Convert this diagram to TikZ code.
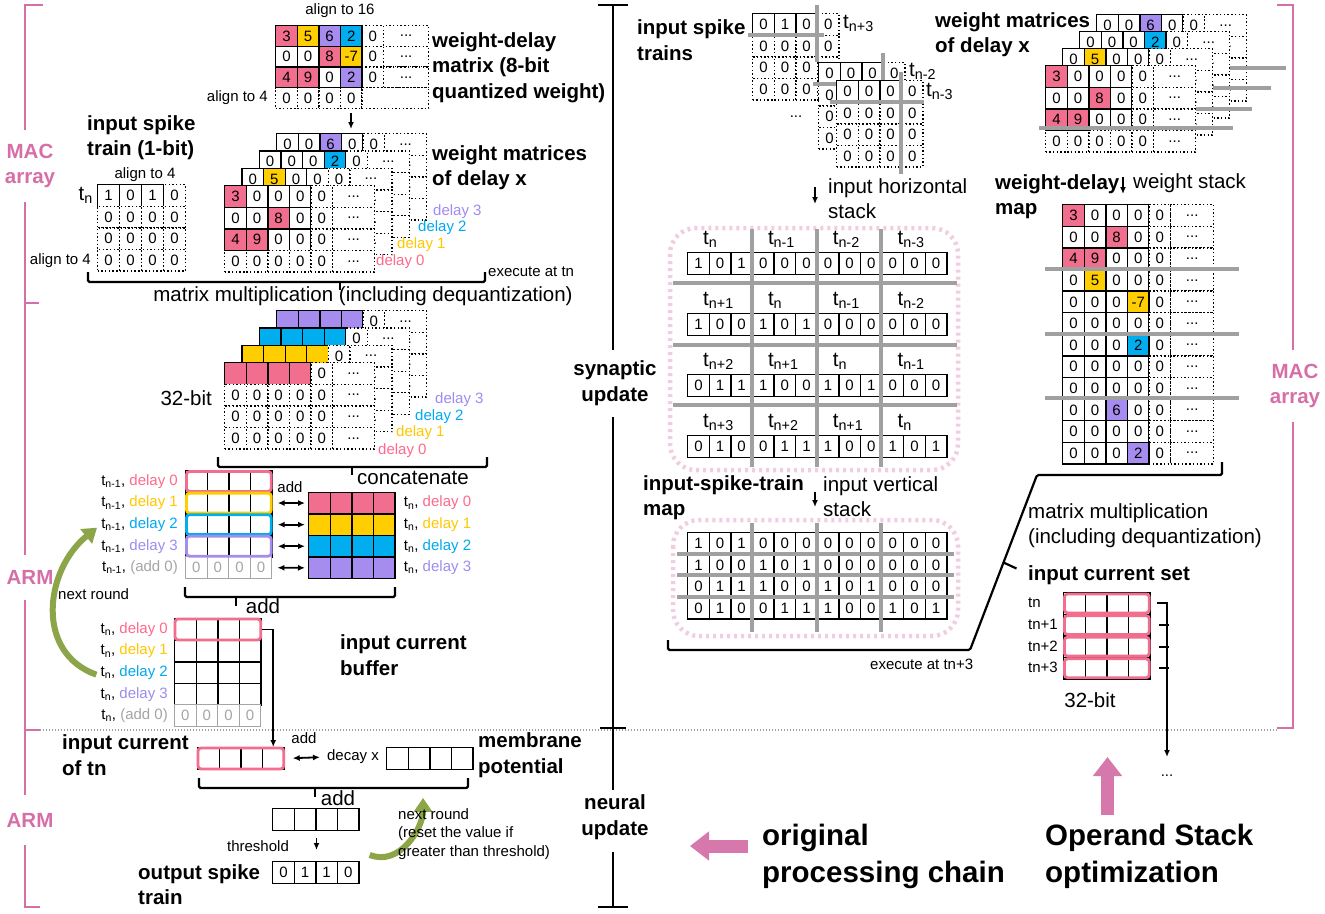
\documentclass[tikz,border=0pt]{standalone}
\usepackage{fontspec}
\setmainfont{Liberation Sans}
\usepackage{tikz}
\usetikzlibrary{arrows.meta}
\usetikzlibrary{calc}
\usetikzlibrary{positioning}

\definecolor{wpink}{RGB}{242,110,142}
\definecolor{wyel}{RGB}{255,206,0}
\definecolor{wblue}{RGB}{0,174,239}
\definecolor{wpurp}{RGB}{166,140,238}
\definecolor{tpink}{RGB}{255,105,140}
\definecolor{tyel}{RGB}{255,200,0}
\definecolor{tblue}{RGB}{0,170,240}
\definecolor{tpurp}{RGB}{160,140,240}
\definecolor{macpink}{RGB}{214,110,168}
\definecolor{oli}{RGB}{140,165,72}
\definecolor{gline}{RGB}{160,160,160}
\definecolor{gtext}{RGB}{165,165,165}
\definecolor{boxpink}{RGB}{242,205,225}
\definecolor{bigpink}{RGB}{215,120,172}

\newcommand{\smallfnt}{\fontsize{15}{18.5}\selectfont}
\newcommand{\medfnt}{\fontsize{20.5}{25}\selectfont}
\newcommand{\labfnt}{\fontsize{20.5}{25.5}\selectfont\bfseries}
\newcommand{\hugefnt}{\fontsize{29.5}{37}\selectfont\bfseries}
\newcommand{\tsb}[1]{t\textsubscript{#1}}

\tikzset{wcell/.style={draw, line width=1.3pt, fill=white, minimum width=21.6pt, minimum height=21.6pt, inner sep=0pt, anchor=north west, font=\smallfnt}}
\tikzset{dcell/.style={wcell, dash pattern=on 1.4pt off 2.3pt}}
\tikzset{gcell/.style={wcell, draw=gtext, text=gtext, line width=1pt}}
\tikzset{txt/.style={font=\smallfnt, inner sep=0pt}}
\tikzset{mtxt/.style={font=\medfnt, inner sep=0pt}}
\tikzset{blab/.style={font=\labfnt, align=left, anchor=west, inner sep=0pt}}
\tikzset{mlab/.style={font=\labfnt, text=macpink, align=center, inner sep=0pt}}
\tikzset{hlab/.style={font=\hugefnt, align=left, anchor=west, inner sep=0pt}}
\tikzset{brk/.style={line width=2.2pt, rounded corners=1.5pt}}
\tikzset{gsep/.style={line width=4pt, draw=gline}}
\tikzset{mac/.style={line width=2pt, draw=macpink}}
\tikzset{rowmark/.style={draw=#1, line width=2.8pt, rounded corners=3pt}}
\tikzset{pbox/.style={draw=boxpink, line width=4.5pt, dash pattern=on 3pt off 4pt, rounded corners=26pt}}

% one weight matrix of a delay (3 solid rows, padding); #5 = text of covered cells
\newcommand{\wlayer}[5]{%
  \foreach \cc in {0,...,3}
    \node[wcell] (#1-0-\cc) at ({#2+\cc*21.6},#3) {0};
  \node[dcell] (#1-0-4) at ({#2+86.4},#3) {0};
  \node[dcell, minimum width=42pt] (#1-0-5) at ({#2+108},#3) {...};
  \foreach \rr in {1,2}{
    \foreach \cc in {0,...,3}
      \node[wcell] (#1-\rr-\cc) at ({#2+\cc*21.6},{#3+\rr*21.6}) {#5};
    \node[dcell] (#1-\rr-4) at ({#2+86.4},{#3+\rr*21.6}) {#5};
    \node[dcell, minimum width=42pt] (#1-\rr-5) at ({#2+108},{#3+\rr*21.6}) {...};
  }
  \foreach \cc in {0,...,4}
    \node[dcell] (#1-3-\cc) at ({#2+\cc*21.6},{#3+64.8}) {#5};
  \node[dcell, minimum width=42pt] (#1-3-5) at ({#2+108},{#3+64.8}) {...};
  \foreach \rr/\cc/\vv/\ff in {#4}
    \node[wcell, fill=\ff] (#1-k-\rr-\cc) at ({#2+\cc*21.6},{#3+\rr*21.6}) {\vv};
}
% one 32-bit result of a delay; #5 = text of covered cells
\newcommand{\blayer}[5]{%
  \foreach \cc in {0,...,3}
    \node[wcell, fill=#4] (#1-0-\cc) at ({#2+\cc*21.6},#3) {};
  \node[dcell] (#1-0-4) at ({#2+86.4},#3) {0};
  \node[dcell, minimum width=42pt] (#1-0-5) at ({#2+108},#3) {...};
  \foreach \rr in {1,2,3}{
    \foreach \cc in {0,...,4}
      \node[dcell] (#1-\rr-\cc) at ({#2+\cc*21.6},{#3+\rr*21.6}) {#5};
    \node[dcell, minimum width=42pt] (#1-\rr-5) at ({#2+108},{#3+\rr*21.6}) {...};
  }
}
% one input spike train; #5, #6 = text of covered cells
\newcommand{\slayer}[6]{%
  \foreach \vv [count=\cc from 0] in {#4}
    \node[wcell] (#1-0-\cc) at ({#2+\cc*21.6},#3) {\vv};
  \node[dcell] (#1-0-3) at ({#2+64.8},#3) {0};
  \foreach \rr in {1,2,3}{
    \node[dcell] (#1-\rr-0) at (#2,{#3+\rr*21.6}) {0};
    \foreach \cc in {1,2}
      \node[dcell] (#1-\rr-\cc) at ({#2+\cc*21.6},{#3+\rr*21.6}) {#5};
  }
  \node[dcell] (#1-1-3) at ({#2+64.8},{#3+21.6}) {#5};
  \node[dcell] (#1-2-3) at ({#2+64.8},{#3+43.2}) {#6};
  \node[dcell] (#1-3-3) at ({#2+64.8},{#3+64.8}) {#6};
}
\newcommand{\bitrow}[4]{%
  \foreach \vv [count=\cc from 0] in {#4}
    \node[wcell] (#1-\cc) at ({#2+\cc*21.6},#3) {\vv};
}

\begin{document}
\begin{tikzpicture}[x=1pt,y=-1pt,>={Latex[length=7pt,width=6pt]}]
\tikzstyle{arr} = [->, line width=1.8pt]
\tikzstyle{dbl} = [<->, line width=1.8pt]
\tikzstyle{grn} = [draw=oli, line width=6pt, -{Triangle[width=18pt,length=14pt]}]
\tikzstyle{bigarr} = [draw=bigpink, line width=13pt, -{Triangle[width=28pt,length=19pt]}]
\useasboundingbox (0,0) rectangle (1325,913);
\fill[white] (0,0) rectangle (1325,913);

% left side brackets
\draw[mac] (43,5) -- (25,5) -- (25,130);
\node[mlab] (macL) at (30,166) {MAC\\array};
\draw[mac] (25,202) -- (25,555);
\draw[mac] (25,303) -- (39,303);
\node[mlab] (armA) at (30,577) {ARM};
\draw[mac] (25,600) -- (25,795);
\draw[mac] (25,730) -- (40,730);
\node[mlab] (armB) at (30,820) {ARM};
\draw[mac] (25,845) -- (25,907) -- (40,907);
\draw[draw=gline, line width=1.3pt, dash pattern=on 1.3pt off 1.7pt] (40,730) -- (1277,730);

% weight-delay matrix
\node[txt] (al16) at (340,11) {align to 16};
\foreach \rr in {0,1,2}{
  \foreach \cc in {0,...,3}
    \node[wcell, minimum height=20.7pt] (wd-\rr-\cc) at ({275+\cc*21.6},{25+\rr*20.7}) {0};
  \node[dcell, minimum height=20.7pt] (wd-\rr-4) at (361.4,{25+\rr*20.7}) {0};
  \node[dcell, minimum height=20.7pt, minimum width=45pt] (wd-\rr-5) at (383,{25+\rr*20.7}) {...};
}
\foreach \cc in {0,...,3}
  \node[dcell, minimum height=20.7pt] (wd-3-\cc) at ({275+\cc*21.6},87.1) {0};
\node[dcell, minimum height=20.7pt, minimum width=66.6pt] (wd-3-4) at (361.4,87.1) {};
\foreach \rr/\cc/\vv/\ff in {0/0/3/wpink,0/1/5/wyel,0/2/6/wpurp,0/3/2/wblue,1/2/8/wpink,1/3/-7/wyel,2/0/4/wpink,2/1/9/wpink,2/3/2/wpurp}
  \node[wcell, fill=\ff, minimum height=20.7pt] (wd-k-\rr-\cc) at ({275+\cc*21.6},{25+\rr*20.7}) {\vv};
\node[txt, left=7pt of wd-3-0] (al4a) {align to 4};
\node[blab] (wdlab) at (432,67.5) {weight-delay\\matrix (8-bit\\quantized weight)};
\coordinate (wdA) at (351,113);
\coordinate (wdB) at (351,129);
\draw[arr] (wdA) -- (wdB);

% weight matrices of delay x (left)
\wlayer{dl3}{276}{133}{0/2/6/wpurp}{}
\wlayer{dl2}{258.7}{150.3}{0/3/2/wblue}{}
\wlayer{dl1}{241.3}{167.7}{0/1/5/wyel}{}
\wlayer{dl0}{224}{185}{0/0/3/wpink,1/2/8/wpink,2/0/4/wpink,2/1/9/wpink}{0}
\node[blab] (wmlab) at (432,167.5) {weight matrices\\of delay x};
\node[txt, anchor=west, text=tpurp] (d3a) at (433,212) {delay 3};
\node[txt, anchor=west, text=tblue] (d2a) at (418,228) {delay 2};
\node[txt, anchor=west, text=tyel] (d1a) at (397,245) {delay 1};
\node[txt, anchor=west, text=tpink] (d0a) at (376,262) {delay 0};

% input spike train
\node[blab] (istlab) at (87,137.5) {input spike\\train (1-bit)};
\node[txt] (al4b) at (145,175) {align to 4};
\foreach \vv [count=\cc from 0] in {1,0,1}
  \node[wcell, minimum width=22pt] (ist-0-\cc) at ({97+\cc*22},184) {\vv};
\node[dcell, minimum width=22pt] (ist-0-3) at (163,184) {0};
\foreach \rr in {1,2,3}
  \foreach \cc in {0,...,3}
    \node[dcell, minimum width=22pt] (ist-\rr-\cc) at ({97+\cc*22},{184+\rr*21.6}) {0};
\node[mtxt, left=4pt of ist-0-0] (istn) {\tsb{n}};
\node[txt, left=6pt of ist-3-0] (al4c) {align to 4};

\draw[brk] (88,272) -- (88,282) -- (485,282) -- (485,272);
\draw[brk] (340,282) -- (340,290);
\node[mtxt] (mmlab) at (363,296) {matrix multiplication (including dequantization)};
\node[txt, anchor=west] (ex1) at (488,272) {execute at tn};

% 32-bit results per delay
\blayer{bl3}{276}{310}{wpurp}{}
\blayer{bl2}{258.7}{327.3}{wblue}{}
\blayer{bl1}{241.3}{344.7}{wyel}{}
\blayer{bl0}{224}{362}{wpink}{0}
\node[mtxt, anchor=east] (b32) at (212,398) {32-bit};
\node[txt, anchor=west, text=tpurp] (d3b) at (435,400) {delay 3};
\node[txt, anchor=west, text=tblue] (d2b) at (415,417) {delay 2};
\node[txt, anchor=west, text=tyel] (d1b) at (396,433) {delay 1};
\node[txt, anchor=west, text=tpink] (d0b) at (378,451) {delay 0};
\draw[brk] (218,457) -- (218,467) -- (487,467) -- (487,457);
\draw[brk] (352,467) -- (352,475);
\node[mtxt] (cclab) at (413,478) {concatenate};

% previous round + concatenated rows
\foreach \rr in {0,...,3}
  \foreach \cc in {0,...,3}
    \node[wcell] (p-\rr-\cc) at ({185+\cc*21.6},{470+\rr*21.6}) {};
\foreach \cc in {0,...,3}
  \node[gcell] (p-4-\cc) at ({185+\cc*21.6},556.4) {0};
\foreach \rr/\col in {0/wpink,1/wyel,2/wblue,3/wpurp}
  \draw[rowmark=\col] ($(p-\rr-0.north west)+(1.5,1.5)$) rectangle ($(p-\rr-3.south east)+(-1.5,-1.5)$);
\foreach \lab/\col [count=\ii from 0] in {delay 0/tpink,delay 1/tyel,delay 2/tblue,delay 3/tpurp,(add 0)/gtext}
  \node[txt, anchor=east] (pl-\ii) at ($(p-\ii-0.west)+(-7,0)$) {\tsb{n-1}, \textcolor{\col}{\lab}};
\foreach \rr/\col in {0/wpink,1/wyel,2/wblue,3/wpurp}
  \foreach \cc in {0,...,3}
    \node[wcell, fill=\col] (q-\rr-\cc) at ({308+\cc*21.6},{491.6+\rr*21.6}) {};
\foreach \lab/\col [count=\ii from 0] in {delay 0/tpink,delay 1/tyel,delay 2/tblue,delay 3/tpurp}
  \node[txt, anchor=west] (ql-\ii) at ($(q-\ii-3.east)+(8,0)$) {\tsb{n}, \textcolor{\col}{\lab}};
\node[txt] (addT) at (290,487) {add};
\foreach \ii [evaluate=\ii as \jj using int(\ii+1)] in {0,...,3}
  \draw[dbl, shorten <=5pt, shorten >=3pt] (p-\jj-3.east) -- (q-\ii-0.west);
\draw[brk] (185,587) -- (185,597) -- (395,597) -- (395,587);
\draw[brk] (236,597) -- (236,606);
\node[mtxt] (addA) at (263,606) {add};

% input current buffer
\foreach \rr in {0,...,3}
  \foreach \cc in {0,...,3}
    \node[wcell] (b-\rr-\cc) at ({174+\cc*21.6},{618+\rr*21.6}) {};
\foreach \cc in {0,...,3}
  \node[gcell] (b-4-\cc) at ({174+\cc*21.6},704.4) {0};
\draw[rowmark=wpink] ($(b-0-0.north west)+(1,1)$) rectangle ($(b-0-3.south east)+(-1,-1)$);
\foreach \lab/\col [count=\ii from 0] in {delay 0/tpink,delay 1/tyel,delay 2/tblue,delay 3/tpurp,(add 0)/gtext}
  \node[txt, anchor=east] (bl-\ii) at ($(b-\ii-0.west)+(-6,0)$) {\tsb{n}, \textcolor{\col}{\lab}};
\node[blab] (buflab) at (340,655) {input current\\buffer};
\node[txt, anchor=west] (nr1) at (58,594) {next round};
\draw[grn] ($(bl-2.west)+(-4,2)$) .. controls +(-62,-22) and +(-52,42) .. ($(pl-2.west)+(-4,3)$);

% neural update
\foreach \cc in {0,...,3}{
  \node[wcell] (ic-\cc) at ({197+\cc*21.6},747) {};
  \node[wcell] (mp-\cc) at ({386+\cc*21.6},747) {};
  \node[wcell] (res-\cc) at ({272+\cc*21.6},808) {};
}
\foreach \vv [count=\cc from 0] in {0,1,1,0}
  \node[wcell] (out-\cc) at ({272+\cc*21.6},861) {\vv};
\draw[rowmark=wpink] ($(ic-0.north west)+(1,1)$) rectangle ($(ic-3.south east)+(-1,-1)$);
\draw[arr] (b-0-3.east) -| (ic-3.north);
\node[blab] (iclab) at (62,755) {input current\\of tn};
\node[txt] (addB) at (304,738) {add};
\node[txt] (dec) at (353,757) {decay x};
\draw[dbl, shorten <=8pt, shorten >=7pt] (ic-3.east) -- (dec.west);
\node[blab] (mplab) at (478,755) {membrane\\potential};
\draw[brk] (199,778) -- (199,788) -- (468,788) -- (468,778);
\draw[brk] (315,788) -- (315,797);
\node[mtxt] (addC) at (338,798) {add};
\draw[arr, shorten <=7pt, shorten >=11pt] (res-1.south east) -- (out-1.north east);
\node[txt] (thr) at (258,846) {threshold};
\node[blab] (outlab) at (138,884.5) {output spike\\train};
\draw[grn] ($(res-3.south east)+(10,24)$) .. controls +(30,12) and +(0,30) .. ($(mp-1.south)+(4,28)$);
\node[txt, align=left, anchor=west] (nr2) at (398,834) {next round\\(reset the value if\\greater than threshold)};

% centre bracket
\draw[line width=2pt] (598,5) -- (628,5);
\draw[line width=2pt] (613,5) -- (613,350);
\node[blab, anchor=center, align=center] (synlab) at (615,383) {synaptic\\update};
\draw[line width=2pt] (613,417) -- (613,790);
\draw[line width=2pt] (600,728) -- (626,728);
\node[blab, anchor=center, align=center] (neulab) at (615,817) {neural\\update};
\draw[line width=2pt] (613,852) -- (613,907);
\draw[line width=2pt] (598,907) -- (628,907);

% input spike trains
\node[blab] (isTlab) at (637,40) {input spike\\trains};
\slayer{sp3}{752}{13}{0,1,0}{0}{}
\draw[gsep] (816.8,5) -- (816.8,62);
\draw[gsep] (748,34.6) -- (824,34.6);
\node[txt] (spdots) at (796,117) {...};
\slayer{sp2}{818}{62}{0,0,0}{}{}
\draw[gsep] (882.8,53) -- (882.8,100);
\draw[gsep] (813,83.6) -- (886,83.6);
\slayer{sp1}{836}{80}{0,0,0}{0}{0}
\draw[gsep] (900.8,72) -- (900.8,174);
\draw[gsep] (830,101.6) -- (924,101.6);
\node[mtxt, anchor=west] (sp3l) at (843,23) {\tsb{n+3}};
\node[mtxt, anchor=west] (sp2l) at (909,71) {\tsb{n-2}};
\node[mtxt, anchor=west] (sp1l) at (926,91) {\tsb{n-3}};
\coordinate (hsA) at (815,187);
\coordinate (hsB) at (815,204);
\draw[arr] (hsA) -- (hsB);
\node[mtxt, anchor=west, align=left] (hslab) at (828,198.5) {input horizontal\\stack};

% horizontal stack
\draw[pbox] (670,228) rectangle (958,470);
\bitrow{h0}{687}{252}{1,0,1,0,0,0,0,0,0,0,0,0}
\bitrow{h1}{687}{313}{1,0,0,1,0,1,0,0,0,0,0,0}
\bitrow{h2}{687}{374}{0,1,1,1,0,0,1,0,1,0,0,0}
\bitrow{h3}{687}{435}{0,1,0,0,1,1,1,0,0,1,0,1}
\foreach \lb [count=\g from 0] in {n,n-1,n-2,n-3}
  \node[mtxt, anchor=west] (hl0-\g) at ({703+\g*64.8},239) {\tsb{\lb}};
\foreach \lb [count=\g from 0] in {n+1,n,n-1,n-2}
  \node[mtxt, anchor=west] (hl1-\g) at ({703+\g*64.8},300) {\tsb{\lb}};
\foreach \lb [count=\g from 0] in {n+2,n+1,n,n-1}
  \node[mtxt, anchor=west] (hl2-\g) at ({703+\g*64.8},361) {\tsb{\lb}};
\foreach \lb [count=\g from 0] in {n+3,n+2,n+1,n}
  \node[mtxt, anchor=west] (hl3-\g) at ({703+\g*64.8},422) {\tsb{\lb}};
\foreach \xx in {751.8,816.6,881.4}
  \draw[gsep] (\xx,229) -- (\xx,467);
\foreach \yy in {283,345,405}
  \draw[gsep] (673,\yy) -- (957,\yy);

% vertical stack
\node[blab] (vmaplab) at (643,497.5) {input-spike-train\\map};
\coordinate (vsA) at (815,492);
\coordinate (vsB) at (815,507);
\draw[arr] (vsA) -- (vsB);
\node[mtxt, anchor=west, align=left] (vslab) at (823,496.5) {input vertical\\stack};
\draw[pbox] (673,520) rectangle (958,636);
\bitrow{v0}{687}{532}{1,0,1,0,0,0,0,0,0,0,0,0}
\bitrow{v1}{687}{553.6}{1,0,0,1,0,1,0,0,0,0,0,0}
\bitrow{v2}{687}{575.2}{0,1,1,1,0,0,1,0,1,0,0,0}
\bitrow{v3}{687}{596.8}{0,1,0,0,1,1,1,0,0,1,0,1}
\foreach \xx in {751.8,816.6,881.4}
  \draw[gsep] (\xx,523) -- (\xx,632);
\foreach \yy in {553.6,575.2,596.8}
  \draw[gsep] (677,\yy) -- (954,\yy);
\draw[brk] (668,640) -- (668,650) -- (970,650) -- coordinate[pos=0.5] (diagM) (1037,475) -- (1222,475) -- (1222,462);
\draw[brk] (diagM) -- ++(13,6);
\node[txt, anchor=west] (ex2) at (870,664) {execute at tn+3};

% weight matrices of delay x (right)
\node[blab] (wmRlab) at (935,34.5) {weight matrices\\of delay x};
\wlayer{dr3}{1096}{14}{0/2/6/wpurp}{}
\draw[gsep] (1090,68) -- (1286,68);
\wlayer{dr2}{1079}{31}{0/3/2/wblue}{}
\draw[gsep] (1073,88) -- (1271,88);
\wlayer{dr1}{1062}{48}{0/1/5/wyel}{}
\draw[gsep] (1056,109) -- (1252,109);
\wlayer{dr0}{1045}{65}{0/0/3/wpink,1/2/8/wpink,2/0/4/wpink,2/1/9/wpink}{0}
\draw[gsep] (1039,128) -- (1233,128);

% weight-delay map
\node[blab] (wdmlab) at (995,196.5) {weight-delay\\map};
\coordinate (wsA) at (1123,177);
\coordinate (wsB) at (1123,194);
\draw[arr] (wsA) -- (wsB);
\node[mtxt, anchor=west] (wslab) at (1133,183) {weight stack};
\foreach \rr in {0,...,11}{
  \foreach \cc in {0,...,3}
    \node[wcell] (wm-\rr-\cc) at ({1062+\cc*21.6},{204+\rr*21.6}) {0};
  \node[dcell] (wm-\rr-4) at (1148.4,{204+\rr*21.6}) {0};
  \node[dcell, minimum width=43pt] (wm-\rr-5) at (1170,{204+\rr*21.6}) {...};
}
\foreach \rr/\cc/\vv/\ff in {0/0/3/wpink,1/2/8/wpink,2/0/4/wpink,2/1/9/wpink,3/1/5/wyel,4/3/-7/wyel,6/3/2/wblue,9/2/6/wpurp,11/3/2/wpurp}
  \node[wcell, fill=\ff] (wm-k-\rr-\cc) at ({1062+\cc*21.6},{204+\rr*21.6}) {\vv};
\foreach \yy in {268.8,333.6,398.4}
  \draw[gsep] (1045,\yy) -- (1239,\yy);

% input current set
\node[mtxt, anchor=west, align=left] (mm2) at (1028,525.5) {matrix multiplication\\(including dequantization)};
\node[blab] (icslab) at (1028,575) {input current set};
\foreach \rr/\lab in {0/tn,1/tn+1,2/tn+2,3/tn+3}{
  \foreach \cc in {0,...,3}
    \node[wcell] (ics-\rr-\cc) at ({1063+\cc*21.6},{592+\rr*21.6}) {};
  \node[txt, anchor=west] (icsl-\rr) at (1028,{602.8+\rr*21.6}) {\lab};
}
\foreach \rr in {0,...,3}
  \draw[rowmark=wpink] ($(ics-\rr-0.north west)+(1.5,2)$) rectangle ($(ics-\rr-3.south east)+(-1.5,-2)$);
\coordinate (setTop) at (1157,602.8);
\coordinate (setEnd) at (1167,757);
\draw[arr] (setTop) -| (setEnd);
\foreach \rr in {1,2,3}
  \draw[line width=1.8pt] ($(ics-\rr-3.east)+(8,0)$) -- ($(ics-\rr-3.east)+(18,0)$);
\node[mtxt] (b32R) at (1090,700) {32-bit};
\node[txt] (more) at (1167,776) {...};

% right bracket
\draw[mac] (1277,5) -- (1293,5) -- (1293,350);
\node[mlab] (macR) at (1295,386) {MAC\\array};
\draw[mac] (1293,422) -- (1293,728) -- (1277,728);

% legend
\node[hlab] (origlab) at (762,856.5) {original\\processing chain};
\node[hlab] (oslab) at (1045,856.5) {Operand Stack\\optimization};
\coordinate (upS) at (1107.5,815);
\coordinate (upT) at (1107.5,757);
\draw[bigarr] (upS) -- (upT);
\coordinate (lfS) at (748,846);
\coordinate (lfT) at (690,846);
\draw[bigarr] (lfS) -- (lfT);
\end{tikzpicture}
\end{document}
